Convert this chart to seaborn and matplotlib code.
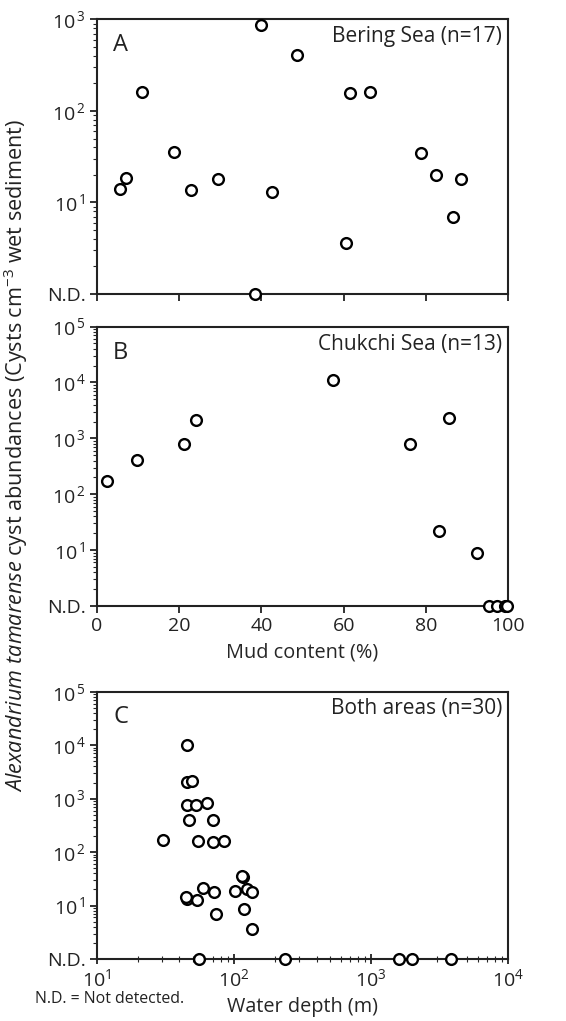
import numpy as np
import pandas as pd
import matplotlib
matplotlib.use("Agg")
import matplotlib.pyplot as plt
import seaborn as sns

# Panel A - Bering Sea (mud %, cysts/cm3), nan = not detected
bering_mud = [5.7, 7.1, 11.1, 18.7, 23.0, 29.5, 38.5, 39.8, 42.5, 48.7,
              60.5, 61.6, 66.3, 78.8, 82.5, 86.6, 88.4]
bering_cysts = [14.2, 18.6, 163, 35.9, 13.8, 18.2, np.nan, 859, 12.9, 406,
                3.65, 157, 161, 34.3, 20.1, 6.9, 18.0]

# Panel B - Chukchi Sea
chukchi_mud = [2.4, 9.7, 21.3, 24.2, 57.3, 76.0, 83.2, 85.5, 92.5,
               95.4, 97.2, 99.2, 99.8]
chukchi_cysts = [176, 417, 795, 2160, 11200, 803, 22.2, 2280, 8.8,
                 np.nan, np.nan, np.nan, np.nan]

# Panel C - both areas vs water depth
depth = [45.6, 45.1, 49.3, 45.1, 52.8, 63.8, 47.2, 70.6, 30.3, 54.6,
         70.3, 85.0, 117, 115, 59.4, 71.5, 102, 124, 135, 45.6,
         45.0, 53.7, 74.6, 118, 136, 55.6, 234, 1585, 1982, 3855]
depth_cysts = [10300, 2080, 2170, 750, 750, 830, 394, 394, 165, 158,
               152, 158, 34.4, 36.0, 21.1, 18.0, 18.5, 20.2, 18.0, 13.5,
               14.2, 12.8, 6.9, 8.5, 3.6, np.nan, np.nan, np.nan, np.nan, np.nan]

ND = 1  # plotting level for "N.D."

sns.set_style("ticks")
plt.rcParams['font.family'] = ['Open Sans', 'DejaVu Sans']
plt.rcParams['mathtext.fontset'] = 'custom'
plt.rcParams['mathtext.rm'] = 'Open Sans'
plt.rcParams['mathtext.it'] = 'Open Sans:italic'
plt.rcParams['mathtext.default'] = 'regular'

fig = plt.figure(figsize=(5.66, 10.21), dpi=100)
axA = fig.add_axes([0.171, 0.712, 0.727, 0.269])
axB = fig.add_axes([0.171, 0.4065, 0.727, 0.2736])
axC = fig.add_axes([0.171, 0.0607, 0.727, 0.2618])

mk = dict(marker='o', s=60, facecolor='white', edgecolor='black',
          linewidth=1.7, clip_on=False, zorder=5, legend=False)


def frame(ax, top_exp):
    ax.set_yscale('log')
    ax.set_ylim(ND, 10 ** top_exp)
    ticks = [10 ** i for i in range(0, top_exp + 1)]
    ax.set_yticks(ticks)
    ax.set_yticklabels(['N.D.'] + [r'$10^{\,%d}$' % i for i in range(1, top_exp + 1)])
    for s in ax.spines.values():
        s.set_visible(True)
        s.set_linewidth(1.5)
        s.set_color('#222222')
    ax.tick_params(axis='both', which='major', direction='out', length=5,
                   width=1.3, labelsize=14, colors='#222222', pad=3)
    ax.tick_params(axis='y', which='minor', direction='out', length=3, width=0.8)
    ax.set_xlabel('')
    ax.set_ylabel('')


dA = pd.DataFrame({'mud': bering_mud, 'cysts': bering_cysts}).fillna(ND)
sns.scatterplot(data=dA, x='mud', y='cysts', ax=axA, **mk)
frame(axA, 3)
axA.set_xlim(0, 100)
axA.set_xticks(range(0, 101, 20))
axA.set_xticklabels([])

dB = pd.DataFrame({'mud': chukchi_mud, 'cysts': chukchi_cysts}).fillna(ND)
sns.scatterplot(data=dB, x='mud', y='cysts', ax=axB, **mk)
frame(axB, 5)
axB.set_xlim(0, 100)
axB.set_xticks(range(0, 101, 20))
axB.set_xlabel('Mud content (%)', fontsize=14.3, labelpad=5)

dC = pd.DataFrame({'depth': depth, 'cysts': depth_cysts}).fillna(ND)
sns.scatterplot(data=dC, x='depth', y='cysts', ax=axC, **mk)
frame(axC, 5)
axC.set_xscale('log')
axC.set_xlim(10, 1e4)
axC.set_xticks([10, 100, 1000, 10000])
axC.set_xticklabels([r'$10^{1}$', r'$10^{2}$', r'$10^{3}$', r'$10^{4}$'])
axC.tick_params(axis='x', which='minor', direction='inout', length=5, width=0.8)
axC.tick_params(axis='x', which='major', direction='inout', length=7)
axC.set_xlabel('Water depth (m)', fontsize=14.3, labelpad=5)

for ax, letter, title in [(axA, 'A', 'Bering Sea (n=17)'),
                          (axB, 'B', 'Chukchi Sea (n=13)'),
                          (axC, 'C', 'Both areas (n=30)')]:
    ax.text(0.04, 0.95, letter, transform=ax.transAxes, fontsize=17,
            va='top', ha='left', color='#222222')
    ax.text(0.985, 0.975, title, transform=ax.transAxes, fontsize=15,
            va='top', ha='right', color='#222222')

fig.text(0.027, 0.554,
         r'$\mathit{Alexandrium\ tamarense}$ cyst abundances (Cysts cm$^{-3}$ wet sediment)',
         rotation=90, ha='center', va='center', fontsize=15.6, color='#222222')
fig.text(0.062, 0.018, 'N.D. = Not detected.', fontsize=11.4, color='#222222')

fig.savefig('out.png', dpi=100)
